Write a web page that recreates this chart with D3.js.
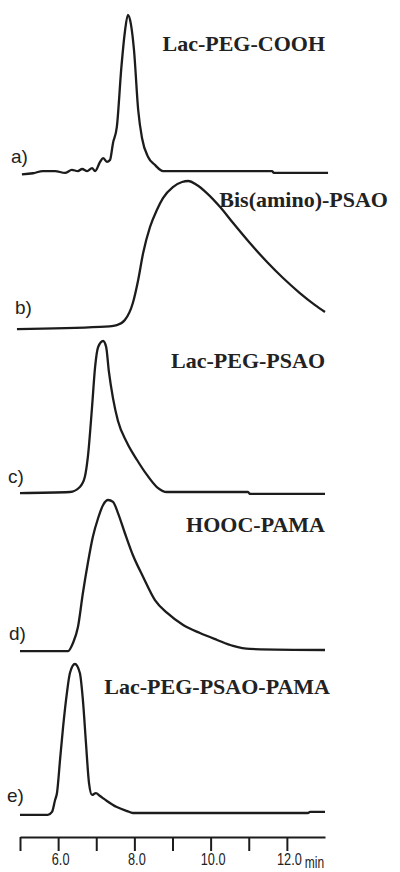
<!DOCTYPE html>
<html>
<head>
<meta charset="utf-8">
<script src="https://cdn.jsdelivr.net/npm/d3@7"></script>
<style>
  body { margin: 0; background: #fff; }
  .trace { fill: none; stroke: #1c1c1c; stroke-width: 2.3; stroke-linejoin: round; }
  .name { font-family: "Liberation Serif", "Times New Roman", serif; font-weight: bold; font-size: 22px; fill: #222; }
  .letter { font-family: "Liberation Sans", Arial, sans-serif; font-size: 19px; fill: #222; }
  .axis path, .axis line { stroke: #1c1c1c; stroke-width: 2; }
  .axis text { font-family: "Liberation Sans", Arial, sans-serif; font-size: 17px; fill: #222; }
</style>
</head>
<body>
<svg id="chart" width="400" height="872"></svg>
<script>
// retention time (min) vs. relative detector signal (% of peak)
const lacPegCooh = [
  [5.05, -1.5], [5.34, -0.8], [5.6, 0.6], [5.92, 0.6], [6.18, -0.6], [6.36, 1.3],
  [6.52, 0.6], [6.63, 1.9], [6.76, 0.6], [6.89, 2.5], [6.97, 0.6], [7.1, 6.4],
  [7.18, 8.9], [7.28, 6.4], [7.36, 7.6], [7.44, 18.5], [7.54, 28.7], [7.66, 66.9],
  [7.75, 89], [7.83, 100], [7.91, 94], [7.99, 77.7], [8.1, 39.5], [8.2, 21.7],
  [8.36, 9.6], [8.54, 4.5], [8.75, 0.6], [11.61, 0.6], [11.66, -0.6], [13.08, -0.6]
]
const bisAminoPsao = [
  [4.92, -0.7], [7.1, 0.7], [7.54, 2.0], [7.75, 5.4], [7.96, 17], [8.1, 32.7],
  [8.23, 51], [8.41, 68.7], [8.59, 80.3], [8.75, 88.4], [9.01, 95.9], [9.25, 99.3],
  [9.41, 100], [9.64, 97.3], [9.9, 91.8], [10.25, 82.3], [10.59, 71.4], [11.03, 57.8],
  [11.48, 44.9], [11.9, 34], [12.34, 23.8], [12.74, 15.6], [13.0, 10.9]
]
const lacPegPsao = [
  [5.0, -0.7], [6.31, 0], [6.57, 3.3], [6.7, 9.9], [6.78, 23.2], [6.89, 56.3],
  [6.97, 82.8], [7.05, 96], [7.18, 100], [7.26, 96], [7.33, 80], [7.44, 62],
  [7.57, 47], [7.81, 32.5], [8.07, 21.2], [8.33, 11.3], [8.59, 3.3], [8.86, 0],
  [10.98, 0], [11.03, -1.3], [13.0, -1.3]
]
const hoocPama = [
  [5.0, -0.7], [6.26, -0.7], [6.39, 4.7], [6.52, 15.3], [6.65, 38], [6.78, 58],
  [6.91, 75.3], [7.05, 88], [7.18, 96.7], [7.31, 100], [7.44, 98.7], [7.57, 91.3],
  [7.75, 78], [7.96, 63.3], [8.23, 48.7], [8.54, 33.3], [8.86, 24.7], [9.28, 16.7],
  [9.72, 11.3], [10.17, 6.7], [10.59, 2.7], [11.03, 0.7], [13.0, 0]
]
const lacPegPsaoPama = [
  [5.0, -1.3], [5.73, -1.3], [5.84, 0.7], [5.92, 8.7], [5.97, 13.4], [6.05, 35.6],
  [6.13, 57.7], [6.23, 80.5], [6.31, 94], [6.44, 100], [6.57, 94], [6.65, 75.8],
  [6.73, 47], [6.81, 20.1], [6.89, 12.1], [6.99, 13.4], [7.1, 11.4], [7.28, 8.1],
  [7.54, 4.0], [7.81, 1.3], [7.96, 0], [12.55, 0], [12.61, 0.7], [13.0, 0.7]
]

const series = [lacPegCooh, bisAminoPsao, lacPegPsao, hoocPama, lacPegPsaoPama]
const sampleNames = ["Lac-PEG-COOH", "Bis(amino)-PSAO", "Lac-PEG-PSAO", "HOOC-PAMA", "Lac-PEG-PSAO-PAMA"]
const panelLetters = ["a)", "b)", "c)", "d)", "e)"]
const timeTicks = [5, 6, 7, 8, 9, 10, 11, 12]
const labelledTicks = [6, 8, 10, 12]

// layout of the stacked panels (pixels)
const panels = [
  { base: 172, top: 15,  nameX: 325, nameY: 51,  letterX: 11, letterY: 163 },
  { base: 328, top: 181, nameX: 388, nameY: 207, letterX: 15, letterY: 314 },
  { base: 492, top: 341, nameX: 325, nameY: 368, letterX: 8,  letterY: 483 },
  { base: 650, top: 500, nameX: 325, nameY: 532, letterX: 9,  letterY: 640 },
  { base: 813, top: 664, nameX: 330, nameY: 694, letterX: 7,  letterY: 802 }
]
const AXIS_Y = 837

const svg = d3.select('#chart')

const x = d3.scaleLinear()
  .domain([5, 13])
  .range([20, 325])

panels.forEach((p, i) => {
  const y = d3.scaleLinear()
    .domain([0, 100])
    .range([p.base, p.top])

  const line = d3.line()
    .x(d => x(d[0]))
    .y(d => y(d[1]))
    .curve(d3.curveMonotoneX)

  svg.append('path')
    .attr('class', 'trace')
    .attr('d', line(series[i]))

  svg.append('text')
    .attr('class', 'name')
    .attr('x', p.nameX)
    .attr('y', p.nameY)
    .attr('text-anchor', 'end')
    .text(sampleNames[i])

  svg.append('text')
    .attr('class', 'letter')
    .attr('x', p.letterX)
    .attr('y', p.letterY)
    .text(panelLetters[i])
})

// time axis
const axis = svg.append('g')
  .attr('class', 'axis')
  .attr('transform', `translate(0, ${AXIS_Y})`)
  .call(d3.axisBottom(x)
    .tickValues(timeTicks)
    .tickSize(14)
    .tickSizeOuter(0)
    .tickPadding(2)
    .tickFormat(d => labelledTicks.includes(d) ? d.toFixed(1) : ''))

axis.selectAll('text')
  .attr('transform', 'translate(2, 0) scale(0.75, 1)')
  .attr('dy', '0.7em')

// unit label, sits low at the end of the axis
svg.append('text')
  .attr('class', 'letter')
  .attr('x', 305)
  .attr('y', 868)
  .style('font-size', '16px')
  .attr('transform', 'translate(76, 0) scale(0.75, 1)')
  .text('min')
</script>
</body>
</html>
